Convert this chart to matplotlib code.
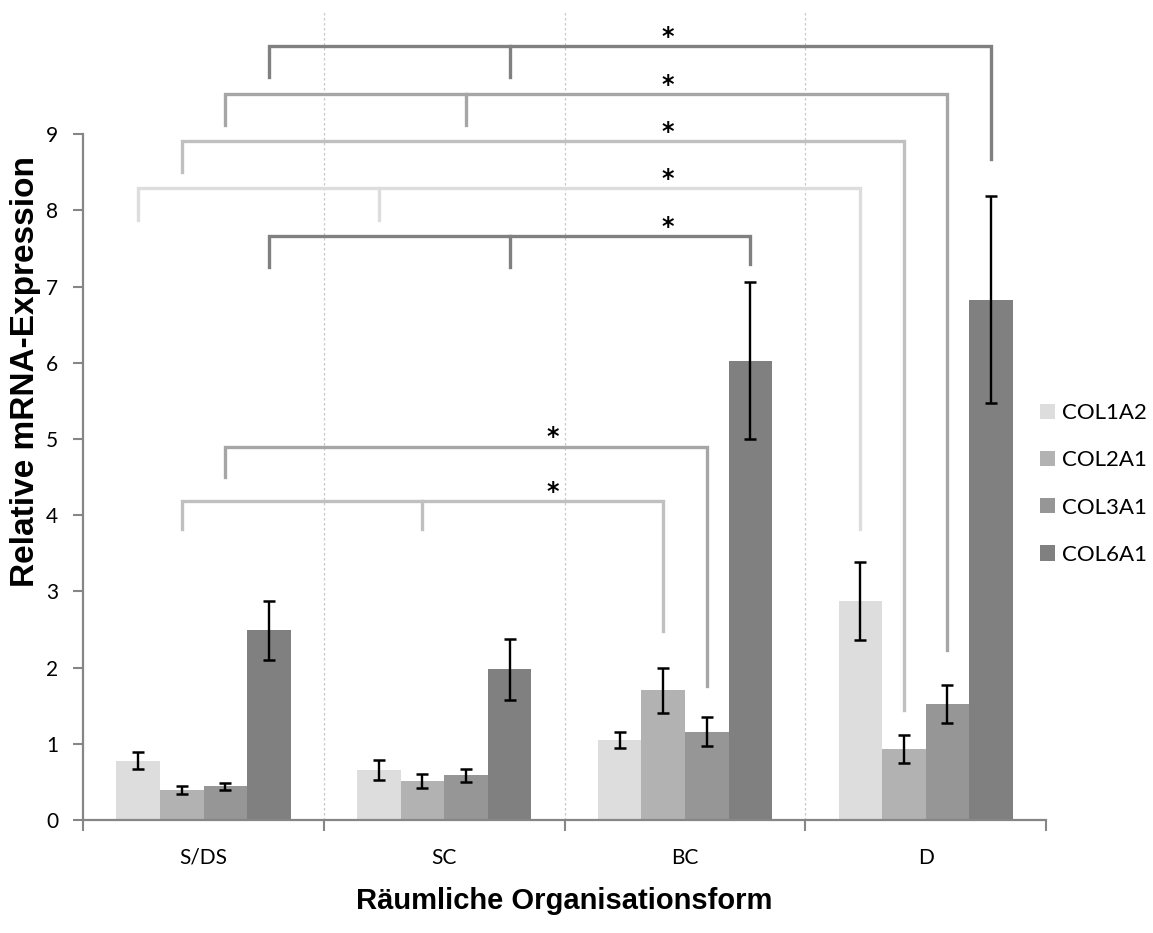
import numpy as np
import matplotlib.pyplot as plt

groups = ["S/DS", "SC", "BC", "D"]
genes = ["COL1A2", "COL2A1", "COL3A1", "COL6A1"]

col1a2 = [0.78, 0.66, 1.05, 2.87]
col2a1 = [0.39, 0.51, 1.70, 0.93]
col3a1 = [0.44, 0.59, 1.16, 1.52]
col6a1 = [2.49, 1.98, 6.03, 6.83]

col1a2_err = [0.11, 0.13, 0.105, 0.51]
col2a1_err = [0.05, 0.09, 0.29, 0.185]
col3a1_err = [0.05, 0.085, 0.195, 0.25]
col6a1_err = [0.39, 0.40, 1.03, 1.36]

bar_colors = ["#dddddd", "#b2b2b2", "#969696", "#808080"]
bracket_colors = ["#dddddd", "#c0c0c0", "#a6a6a6", "#808080"]

# significance brackets: gene index, left group, middle group (or None), right group,
# bracket height, leg bottom left, leg bottom right, star x
brackets = [
    (3, 0, 1, 3, 10.16, 9.75, 8.67, 1.93),
    (2, 0, 1, 3, 9.53, 9.12, 2.23, 1.93),
    (1, 0, None, 3, 8.91, 8.50, 1.44, 1.93),
    (0, 0, 1, 3, 8.29, 7.88, 3.82, 1.93),
    (3, 0, 1, 2, 7.66, 7.26, 7.29, 1.93),
    (2, 0, None, 2, 4.90, 4.50, 1.76, 1.45),
    (1, 0, 1, 2, 4.18, 3.82, 2.48, 1.45),
]

values = [col1a2, col2a1, col3a1, col6a1]
errors = [col1a2_err, col2a1_err, col3a1_err, col6a1_err]

fig = plt.figure(figsize=(11.53, 9.33), dpi=100)
ax = fig.add_axes([0.0722, 0.1211, 0.835, 0.8682])

x = np.arange(len(groups))
width = 0.181
offsets = (np.arange(4) - 1.5) * width

for i in range(4):
    ax.bar(
        x + offsets[i],
        values[i],
        width,
        color=bar_colors[i],
        label=genes[i],
        zorder=2
    )
    ax.errorbar(
        x + offsets[i],
        values[i],
        yerr=errors[i],
        fmt="none",
        ecolor="black",
        elinewidth=1.7,
        capsize=4,
        capthick=1.8,
        zorder=4
    )

for gene, g_left, g_mid, g_right, top, bot_left, bot_right, star_x in brackets:
    color = bracket_colors[gene]
    xl = g_left + offsets[gene]
    xr = g_right + offsets[gene]
    ax.plot(
        [xl, xl, xr, xr],
        [bot_left, top, top, bot_right],
        color=color,
        lw=2.4,
        solid_joinstyle="miter",
        zorder=3
    )
    if g_mid is not None:
        xm = g_mid + offsets[gene]
        ax.plot([xm, xm], [top, bot_left], color=color, lw=2.4, zorder=3)
    ax.text(
        star_x,
        top + 0.03,
        "*",
        ha="center",
        va="baseline",
        fontsize=17,
        fontweight="bold",
        fontfamily="DejaVu Sans"
    )

ax.set_xlim(-0.5, 3.5)
ax.set_ylim(0, 10.63)

for b in [0.5, 1.5, 2.5]:
    ax.axvline(b, color="#c8c8c8", lw=0.9, ls=(0, (2, 2)), zorder=1)

ax.set_yticks(range(10))
ax.set_yticklabels([str(v) for v in range(10)], fontsize=15, fontfamily="Lato")
ax.set_xticks(x)
ax.set_xticklabels(groups, fontsize=15, fontfamily="Lato")
ax.tick_params(axis="x", which="major", length=0, pad=20)
ax.set_xticks([-0.5, 0.5, 1.5, 2.5, 3.5], minor=True)
ax.tick_params(axis="x", which="minor", length=8, width=1.5, color="#868686", direction="out")
ax.tick_params(axis="y", length=7, width=1.5, color="#868686", pad=11)

for side in ["top", "right"]:
    ax.spines[side].set_visible(False)
for side in ["left", "bottom"]:
    ax.spines[side].set_color("#868686")
    ax.spines[side].set_linewidth(1.6)
ax.spines["left"].set_bounds(0, 9)

ax.set_xlabel(
    "Räumliche Organisationsform",
    fontsize=21,
    fontweight="bold",
    fontfamily="Liberation Sans",
    labelpad=14
)
ax.set_ylabel(
    "Relative mRNA-Expression",
    fontsize=24,
    fontweight="bold",
    fontfamily="Liberation Sans"
)
ax.yaxis.set_label_coords(-0.044, 0.554)

fig.legend(
    loc="center left",
    bbox_to_anchor=(1040 / 1153, 1 - 484 / 933),
    bbox_transform=fig.transFigure,
    frameon=False,
    prop={"family": "Lato", "size": 16},
    borderpad=0,
    borderaxespad=0,
    handlelength=0.68,
    handleheight=0.68,
    handletextpad=0.3,
    labelspacing=1.22
)

fig.savefig("out.png", dpi=100)
plt.close(fig)
